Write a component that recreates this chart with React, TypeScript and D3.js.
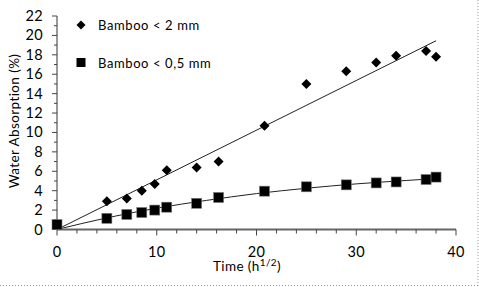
import React from "react";
import * as d3 from "d3";

const W = 479;
const H = 287;

const diamondX = [5, 7, 8.5, 9.8, 11, 14, 16.2, 20.8, 25, 29, 32, 34, 37, 38];
const diamondY = [2.9, 3.2, 4.0, 4.7, 6.1, 6.4, 7.0, 10.7, 15.0, 16.3, 17.2, 17.9, 18.4, 17.8];

const squareX = [0, 5, 7, 8.5, 9.8, 11, 14, 16.2, 20.8, 25, 29, 32, 34, 37, 38];
const squareY = [0.5, 1.15, 1.55, 1.75, 2.0, 2.3, 2.7, 3.3, 3.95, 4.4, 4.6, 4.8, 4.9, 5.15, 5.4];

const trend1X = [0, 38];
const trend1Y = [0, 19.45];

const trend2X = [0, 5, 10, 15, 20, 25, 30, 35, 38];
const trend2Y = [0, 1.2, 2.2, 3.0, 3.7, 4.25, 4.7, 5.05, 5.25];

const xTicks = [0, 10, 20, 30, 40];
const yTicks = [0, 2, 4, 6, 8, 10, 12, 14, 16, 18, 20, 22];

const seriesNames = ["Bamboo < 2 mm", "Bamboo < 0,5 mm"];
const xTitle = "Time (h";
const xTitleSup = "1/2";
const yTitle = "Water Absorption (%)";

const FONT = "Lato, 'Open Sans', sans-serif";

export default function App() {
  const x = d3.scaleLinear().domain([0, 40]).range([57, 456]);
  const y = d3.scaleLinear().domain([0, 22]).range([229.5, 16]);

  const line = d3
    .line<[number, number]>()
    .x((d) => x(d[0]))
    .y((d) => y(d[1]));
  const curve = d3
    .line<[number, number]>()
    .x((d) => x(d[0]))
    .y((d) => y(d[1]))
    .curve(d3.curveMonotoneX);

  const t1 = trend1X.map((v, i) => [v, trend1Y[i]] as [number, number]);
  const t2 = trend2X.map((v, i) => [v, trend2Y[i]] as [number, number]);

  const xMinor = d3.range(0, 40.001, 2);
  const yMinor = d3.range(0, 22.001, 1);

  const diamond = (cx: number, cy: number, r: number) =>
    `M${cx},${cy - r}L${cx + r},${cy}L${cx},${cy + r}L${cx - r},${cy}Z`;

  return (
    <svg
      width={W}
      height={H}
      style={{ position: "absolute", left: 0, top: 0, background: "#fff" }}
      fontFamily={FONT}
    >
      <rect x={0} y={0} width={W} height={H} fill="#fff" />
      {/* dotted border right & bottom */}
      <line x1={478} y1={0} x2={478} y2={286} stroke="#999" strokeDasharray="1,2" />
      <line x1={0} y1={285.5} x2={478} y2={285.5} stroke="#999" strokeDasharray="1,2" />

      {/* trend lines */}
      <path d={line(t1) || ""} fill="none" stroke="#222" strokeWidth={1} />
      <path d={curve(t2) || ""} fill="none" stroke="#222" strokeWidth={1} />

      {/* y axis */}
      <line x1={x(0)} y1={y(22)} x2={x(0)} y2={y(0)} stroke="#333" strokeWidth={1} />
      {yMinor.map((v) => (
        <line
          key={"ym" + v}
          x1={x(0) - (v % 2 === 0 ? 5 : 3)}
          x2={x(0)}
          y1={y(v)}
          y2={y(v)}
          stroke="#444"
          strokeWidth={1}
        />
      ))}
      {yTicks.map((v) => (
        <text
          key={"yt" + v}
          x={43}
          y={y(v) + 5}
          textAnchor="end"
          fontSize={14.5}
          letterSpacing={0.3}
          fill="#000"
        >
          {v}
        </text>
      ))}

      {/* x axis */}
      <line x1={x(0)} y1={y(0)} x2={x(40)} y2={y(0)} stroke="#666" strokeWidth={2} />
      {xMinor.map((v) => (
        <line
          key={"xm" + v}
          x1={x(v)}
          x2={x(v)}
          y1={y(0)}
          y2={y(0) + (v % 10 === 0 ? 6 : 4)}
          stroke="#444"
          strokeWidth={1}
        />
      ))}
      {xTicks.map((v) => (
        <text
          key={"xt" + v}
          x={x(v)}
          y={256.5}
          textAnchor="middle"
          fontSize={14.5}
          letterSpacing={0.3}
          fill="#000"
        >
          {v}
        </text>
      ))}

      {/* axis titles */}
      <text x={247} y={270.5} textAnchor="middle" fontSize={13.5} letterSpacing={0.4} fill="#000">
        {xTitle}
        <tspan fontSize={10} dy={-4.5}>
          {xTitleSup}
        </tspan>
        <tspan dy={4.5}>)</tspan>
      </text>
      <text
        transform={`translate(19,121) rotate(-90)`}
        textAnchor="middle"
        fontSize={13.5}
        letterSpacing={0.4}
        fill="#000"
      >
        {yTitle}
      </text>

      {/* markers */}
      {squareX.map((v, i) => (
        <rect
          key={"sq" + i}
          x={x(v) - 5}
          y={y(squareY[i]) - 5}
          width={10}
          height={10}
          fill="#000"
          stroke="#777"
          strokeWidth={0.6}
        />
      ))}
      {diamondX.map((v, i) => (
        <path key={"dm" + i} d={diamond(x(v), y(diamondY[i]), 5)} fill="#000" />
      ))}

      {/* legend */}
      <path d={diamond(81, 25, 4.5)} fill="#000" />
      <text x={98} y={30} fontSize={13} letterSpacing={0.6} fill="#000">
        {seriesNames[0]}
      </text>
      <rect x={76.5} y={58} width={9} height={9} fill="#000" />
      <text x={98} y={68} fontSize={13} letterSpacing={0.6} fill="#000">
        {seriesNames[1]}
      </text>
    </svg>
  );
}
